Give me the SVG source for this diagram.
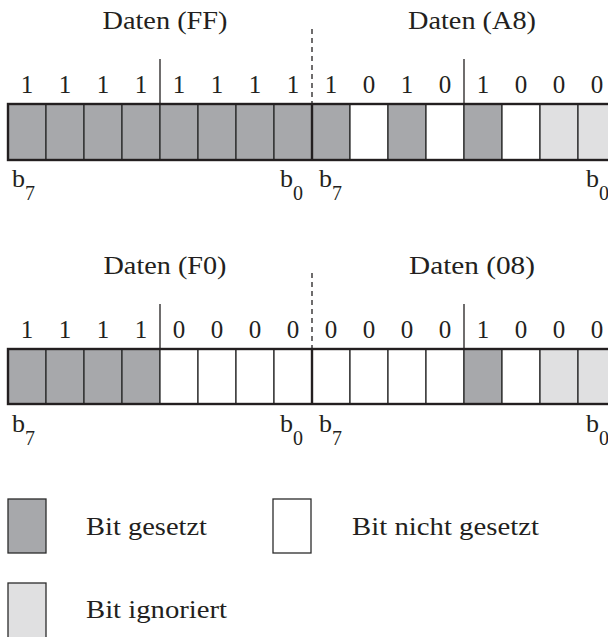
<svg xmlns="http://www.w3.org/2000/svg" width="608" height="637" viewBox="0 0 608 637">
<style>
text{font-family:"Liberation Serif","Times New Roman",serif;fill:#231f20}
.t{font-size:26px}
.d{font-size:25px;text-anchor:middle}
.s{font-size:20px}
.set{fill:#a7a8ab;stroke:#2b2b2b;stroke-width:1.3}
.clr{fill:#ffffff;stroke:#2b2b2b;stroke-width:1.3}
.ign{fill:#e0e0e1;stroke:#2b2b2b;stroke-width:1.3}
.frame{fill:none;stroke:#231f20;stroke-width:2.4}
.sep{stroke:#231f20;stroke-width:1.3}
.dash{stroke:#231f20;stroke-width:1.3;stroke-dasharray:5 4}
.byte{stroke:#231f20;stroke-width:2.4}
</style>
<rect width="608" height="637" fill="#ffffff"/>

<g id="row1">
  <text class="t" x="165" y="29" text-anchor="middle" textLength="125" lengthAdjust="spacingAndGlyphs">Daten (FF)</text>
  <text class="t" x="472" y="29" text-anchor="middle" textLength="128" lengthAdjust="spacingAndGlyphs">Daten (A8)</text>
  <line class="dash" x1="312" y1="29" x2="312" y2="104"/>
  <line class="sep" x1="160" y1="59" x2="160" y2="104"/>
  <line class="sep" x1="464" y1="59" x2="464" y2="104"/>
  <g>
    <text class="d" x="27" y="93">1</text><text class="d" x="65" y="93">1</text><text class="d" x="103" y="93">1</text><text class="d" x="141" y="93">1</text>
    <text class="d" x="179" y="93">1</text><text class="d" x="217" y="93">1</text><text class="d" x="255" y="93">1</text><text class="d" x="293" y="93">1</text>
    <text class="d" x="331" y="93">1</text><text class="d" x="369" y="93">0</text><text class="d" x="407" y="93">1</text><text class="d" x="445" y="93">0</text>
    <text class="d" x="483" y="93">1</text><text class="d" x="521" y="93">0</text><text class="d" x="559" y="93">0</text><text class="d" x="597" y="93">0</text>
  </g>
  <g>
    <rect class="set" x="8" y="104" width="38" height="56"/>
    <rect class="set" x="46" y="104" width="38" height="56"/>
    <rect class="set" x="84" y="104" width="38" height="56"/>
    <rect class="set" x="122" y="104" width="38" height="56"/>
    <rect class="set" x="160" y="104" width="38" height="56"/>
    <rect class="set" x="198" y="104" width="38" height="56"/>
    <rect class="set" x="236" y="104" width="38" height="56"/>
    <rect class="set" x="274" y="104" width="38" height="56"/>
    <rect class="set" x="312" y="104" width="38" height="56"/>
    <rect class="clr" x="350" y="104" width="38" height="56"/>
    <rect class="set" x="388" y="104" width="38" height="56"/>
    <rect class="clr" x="426" y="104" width="38" height="56"/>
    <rect class="set" x="464" y="104" width="38" height="56"/>
    <rect class="clr" x="502" y="104" width="38" height="56"/>
    <rect class="ign" x="540" y="104" width="38" height="56"/>
    <rect class="ign" x="578" y="104" width="38" height="56"/>
    <rect class="frame" x="8" y="104" width="608" height="56"/>
    <line class="byte" x1="312" y1="104" x2="312" y2="160"/>
  </g>
  <text class="t" x="12" y="187">b</text><text class="s" x="25" y="200">7</text>
  <text class="t" x="280" y="187">b</text><text class="s" x="293" y="200">0</text>
  <text class="t" x="319" y="187">b</text><text class="s" x="332" y="200">7</text>
  <text class="t" x="586" y="187">b</text><text class="s" x="599" y="200">0</text>
</g>

<g id="row2">
  <text class="t" x="165" y="274" text-anchor="middle" textLength="123" lengthAdjust="spacingAndGlyphs">Daten (F0)</text>
  <text class="t" x="472" y="274" text-anchor="middle" textLength="126" lengthAdjust="spacingAndGlyphs">Daten (08)</text>
  <line class="dash" x1="312" y1="273" x2="312" y2="349"/>
  <line class="sep" x1="160" y1="304" x2="160" y2="349"/>
  <line class="sep" x1="464" y1="304" x2="464" y2="349"/>
  <g>
    <text class="d" x="27" y="338">1</text><text class="d" x="65" y="338">1</text><text class="d" x="103" y="338">1</text><text class="d" x="141" y="338">1</text>
    <text class="d" x="179" y="338">0</text><text class="d" x="217" y="338">0</text><text class="d" x="255" y="338">0</text><text class="d" x="293" y="338">0</text>
    <text class="d" x="331" y="338">0</text><text class="d" x="369" y="338">0</text><text class="d" x="407" y="338">0</text><text class="d" x="445" y="338">0</text>
    <text class="d" x="483" y="338">1</text><text class="d" x="521" y="338">0</text><text class="d" x="559" y="338">0</text><text class="d" x="597" y="338">0</text>
  </g>
  <g>
    <rect class="set" x="8" y="349" width="38" height="55"/>
    <rect class="set" x="46" y="349" width="38" height="55"/>
    <rect class="set" x="84" y="349" width="38" height="55"/>
    <rect class="set" x="122" y="349" width="38" height="55"/>
    <rect class="clr" x="160" y="349" width="38" height="55"/>
    <rect class="clr" x="198" y="349" width="38" height="55"/>
    <rect class="clr" x="236" y="349" width="38" height="55"/>
    <rect class="clr" x="274" y="349" width="38" height="55"/>
    <rect class="clr" x="312" y="349" width="38" height="55"/>
    <rect class="clr" x="350" y="349" width="38" height="55"/>
    <rect class="clr" x="388" y="349" width="38" height="55"/>
    <rect class="clr" x="426" y="349" width="38" height="55"/>
    <rect class="set" x="464" y="349" width="38" height="55"/>
    <rect class="clr" x="502" y="349" width="38" height="55"/>
    <rect class="ign" x="540" y="349" width="38" height="55"/>
    <rect class="ign" x="578" y="349" width="38" height="55"/>
    <rect class="frame" x="8" y="349" width="608" height="55"/>
    <line class="byte" x1="312" y1="349" x2="312" y2="404"/>
  </g>
  <text class="t" x="12" y="432">b</text><text class="s" x="25" y="445">7</text>
  <text class="t" x="280" y="432">b</text><text class="s" x="293" y="445">0</text>
  <text class="t" x="319" y="432">b</text><text class="s" x="332" y="445">7</text>
  <text class="t" x="586" y="432">b</text><text class="s" x="599" y="445">0</text>
</g>

<g id="legend-set">
  <rect class="set" x="8" y="499" width="38" height="54"/>
  <text class="t" x="86" y="535" textLength="121" lengthAdjust="spacingAndGlyphs">Bit gesetzt</text>
</g>
<g id="legend-clear">
  <rect class="clr" x="273" y="499" width="38" height="54"/>
  <text class="t" x="352" y="535" textLength="187" lengthAdjust="spacingAndGlyphs">Bit nicht gesetzt</text>
</g>
<g id="legend-ignored">
  <rect class="ign" x="8" y="583" width="38" height="56"/>
  <text class="t" x="86" y="618" textLength="141" lengthAdjust="spacingAndGlyphs">Bit ignoriert</text>
</g>
<g id="connectors"/>
</svg>
